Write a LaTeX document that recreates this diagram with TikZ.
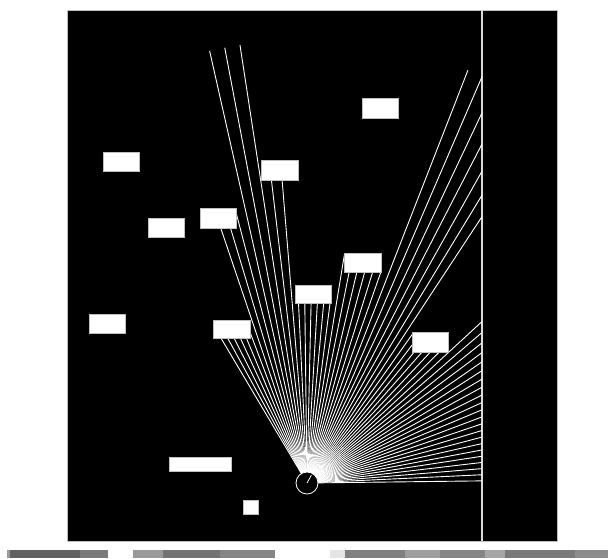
\documentclass[tikz,border=0pt]{standalone}
\begin{document}
\begin{tikzpicture}[x=1pt,y=-1pt,
  obstacle/.style={fill=white,draw=black!25,line width=0.6pt},
  ray/.style={white,line width=0.9pt},
  strip/.style={line width=0pt}]
\useasboundingbox (0,0) rectangle (608,558);
\fill[white] (0,0) rectangle (608,558);
% arena
\draw[fill=black,draw=black!25,line width=0.8pt] (67,10) rectangle (557,541);
% wall
\draw[white!85!black,line width=1.8pt] (482.3,10) -- (482.3,541);
% sensor
\def\px{307}\def\py{483}
\coordinate (S) at (\px,\py);
\def\obstacles{362/98/398/118, 103/152/139/171.5, 261.5/160/298.5/180, 148/218.5/184/237.5, 200.5/208.5/236.5/228.5, 344.5/253/381/272, 295.5/285/331/303, 89.5/314.5/125.5/333.5, 213.5/320/250/338.5, 412.5/332/448.5/352, 169/457/231.5/471, 243.5/500/258/514}
\foreach \k in {0,...,60}{
  \edef\ang{\fpeval{0.7+2*\k}}
  \edef\dx{\fpeval{cosd(\ang)}}
  \edef\dy{\fpeval{-sind(\ang)}}
  \xdef\tcur{\fpeval{(\dx>0) ? min(443,(482-\px)/(\dx)) : 443}}
  \foreach \xa/\ya/\xb/\yb in \obstacles {
    \edef\ta{\fpeval{(\xa-\px)/(\dx)}}
    \edef\tb{\fpeval{(\xb-\px)/(\dx)}}
    \edef\tc{\fpeval{(\ya-\py)/(\dy)}}
    \edef\td{\fpeval{(\yb-\py)/(\dy)}}
    \edef\tn{\fpeval{max(min(\ta,\tb),min(\tc,\td))}}
    \edef\tf{\fpeval{min(max(\ta,\tb),max(\tc,\td))}}
    \xdef\tcur{\fpeval{((\tn>0) && (\tn<=\tf) && (\tn<\tcur)) ? \tn : \tcur}}
  }
  \edef\ex{\fpeval{round(\px+\tcur*\dx,3)}}
  \edef\ey{\fpeval{round(\py+\tcur*\dy,3)}}
  \coordinate (E\k) at (\ex,\ey);
  \draw[ray] (S) -- (E\k);
}
% obstacles
\foreach \xa/\ya/\xb/\yb [count=\i] in \obstacles {
  \draw[obstacle] (\xa,\ya) rectangle (\xb,\yb);
}
% robot
\node[circle,fill=black,draw=white,line width=0.8pt,minimum size=22pt,inner sep=0pt] (R) at (S) {};
\coordinate (H) at (311.4,475.2);
\draw[white,line width=0.8pt] (R.center) -- (H);
% bottom strip
\fill[black!40] (7,550) rectangle (10,558);
\fill[black!62] (10,550) rectangle (80,558);
\fill[black!52] (80,550) rectangle (108,558);
\fill[white] (108,550) rectangle (133,558);
\fill[black!40] (133,550) rectangle (163,558);
\fill[black!55] (163,550) rectangle (220,558);
\fill[black!48] (220,550) rectangle (275,558);
\fill[white] (275,550) rectangle (330,558);
\fill[black!10] (330,550) rectangle (345,558);
\fill[black!50] (345,550) rectangle (405,558);
\fill[black!38] (405,550) rectangle (440,558);
\fill[black!48] (440,550) rectangle (485,558);
\fill[black!35] (485,550) rectangle (505,558);
\fill[black!52] (505,550) rectangle (575,558);
\fill[black!45] (575,550) rectangle (608,558);
\end{tikzpicture}
\end{document}
